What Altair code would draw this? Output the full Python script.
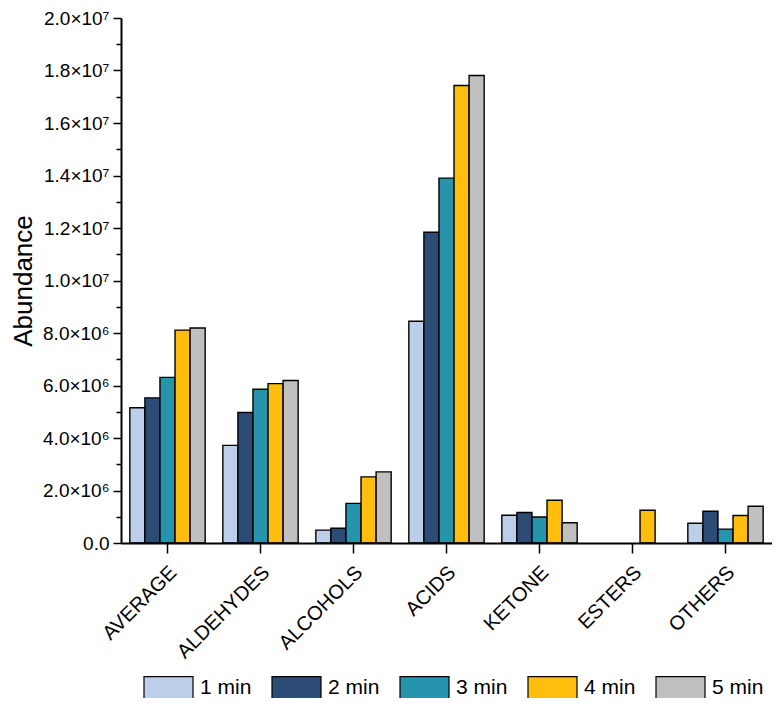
import altair as alt
import pandas as pd

categories = ["AVERAGE", "ALDEHYDES", "ALCOHOLS", "ACIDS", "KETONE", "ESTERS", "OTHERS"]
series = ["1 min", "2 min", "3 min", "4 min", "5 min"]
min1 = [5.15e6, 3.72e6, 0.49e6, 8.45e6, 1.06e6, 0.0, 0.75e6]
min2 = [5.53e6, 4.97e6, 0.56e6, 11.84e6, 1.16e6, 0.0, 1.21e6]
min3 = [6.31e6, 5.86e6, 1.51e6, 13.90e6, 0.99e6, 0.0, 0.53e6]
min4 = [8.11e6, 6.07e6, 2.52e6, 17.43e6, 1.63e6, 1.25e6, 1.05e6]
min5 = [8.19e6, 6.19e6, 2.71e6, 17.81e6, 0.77e6, 0.0, 1.40e6]
colors = ["#BDCFE8", "#2C4C75", "#2794AE", "#FFBE0E", "#C0C0C0"]
major_ticks = [0, 2e6, 4e6, 6e6, 8e6, 1e7, 1.2e7, 1.4e7, 1.6e7, 1.8e7, 2e7]
minor_ticks = [1e6, 3e6, 5e6, 7e6, 9e6, 1.1e7, 1.3e7, 1.5e7, 1.7e7, 1.9e7]

rows = []
for s, vals in zip(series, [min1, min2, min3, min4, min5]):
    for c, v in zip(categories, vals):
        rows.append({"category": c, "series": s, "value": v})
df = pd.DataFrame(rows)

FONT = "Liberation Sans"

exp = "floor(log(datum.value) / LN10 + 1e-9)"
label_expr = (
    "datum.value == 0 ? '0.0' : format(datum.value / pow(10, " + exp + "), '.1f') + '\u00d710' + "
    "(" + exp + " == 6 ? '\u2076' : '\u2077')"
)

yscale = alt.Scale(domain=[0, 2e7], nice=False, zero=True)

bars = alt.Chart(df).transform_filter("datum.value > 0").mark_bar(
    stroke="black", strokeWidth=1.4
).encode(
    x=alt.X(
        "category:N",
        sort=categories,
        scale=alt.Scale(domain=categories, paddingInner=0.19, paddingOuter=0.095),
        axis=alt.Axis(
            title=None, labelAngle=-45, labelAlign="right", labelBaseline="middle",
            labelFontSize=20, labelFont=FONT, labelColor="black",
            domainColor="black", domainWidth=2, tickColor="black", tickWidth=1.5,
            tickSize=10, labelPadding=16, labelOffset=6, zindex=1,
        ),
    ),
    xOffset=alt.XOffset(
        "series:N", sort=series,
        scale=alt.Scale(domain=series, paddingInner=0, paddingOuter=0),
    ),
    y=alt.Y(
        "value:Q",
        scale=yscale,
        axis=alt.Axis(
            title="Abundance", values=major_ticks, labelExpr=label_expr,
            labelFontSize=19, labelFont=FONT, labelColor="black", labelPadding=4,
            titleFontSize=26, titleFont=FONT, titleFontWeight="normal", titleColor="black",
            titlePadding=6,
            domainColor="black", domainWidth=2, tickColor="black", tickWidth=1.5,
            tickSize=8, grid=False, zindex=1,
        ),
    ),
    color=alt.Color(
        "series:N",
        sort=series,
        scale=alt.Scale(domain=series, range=colors),
        legend=alt.Legend(
            title=None, orient="none", legendX=22, legendY=644, direction="horizontal",
            symbolType="M-1,-0.449H1V0.449H-1Z", symbolSize=2401,
            symbolStrokeColor="black", symbolStrokeWidth=1.2, symbolOpacity=1,
            labelFontSize=21, labelFont=FONT, labelColor="black", labelOffset=6,
            columnPadding=17, padding=0, symbolOffset=0,
        ),
    ),
)

minor = alt.Chart(df).mark_point(opacity=0).encode(
    y=alt.Y(
        "value:Q",
        scale=yscale,
        axis=alt.Axis(
            orient="left", title=None, values=minor_ticks, labels=False, domain=False,
            tickColor="black", tickWidth=1.5, tickSize=5, grid=False,
        ),
    ),
)

chart = alt.layer(bars, minor).resolve_axis(y="independent").properties(
    width=651,
    height=525,
    padding={"left": 113, "top": 10, "right": 0, "bottom": 155},
    autosize=alt.AutoSizeParams(type="none"),
).configure_view(stroke=None)

chart.save("out.html", embed_options={"renderer": "svg", "actions": False})
